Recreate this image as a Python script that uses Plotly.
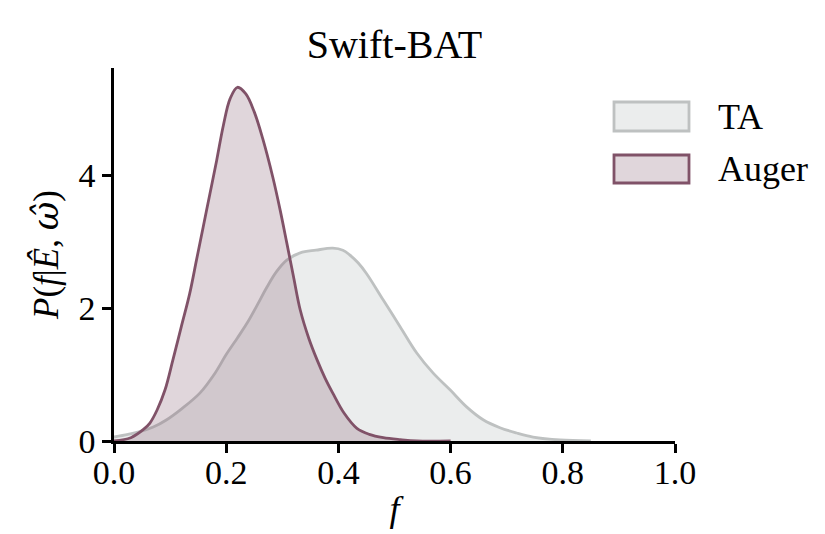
import plotly.graph_objects as go

# ---- data ----
ta_f = [0.0, 0.025, 0.046, 0.07, 0.094, 0.12, 0.153, 0.18, 0.2, 0.22, 0.237, 0.255, 0.273,
        0.29, 0.308, 0.332, 0.36, 0.39, 0.408, 0.42, 0.435,
        0.45, 0.48, 0.51, 0.54, 0.569, 0.599, 0.629, 0.658, 0.688, 0.718, 0.747, 0.795, 0.85]
ta_p = [0.06, 0.1, 0.14, 0.21, 0.32, 0.48, 0.72, 1.02, 1.3, 1.55, 1.77, 2.04, 2.32,
        2.55, 2.72, 2.83, 2.87, 2.9, 2.87, 2.8, 2.68,
        2.52, 2.12, 1.72, 1.32, 1.02, 0.77, 0.51, 0.32, 0.2, 0.12, 0.06, 0.015, 0.0]

auger_f = [0.0, 0.03, 0.052, 0.064, 0.077, 0.091, 0.105, 0.12, 0.135, 0.147, 0.159, 0.171,
           0.183, 0.195, 0.207, 0.22, 0.235, 0.25, 0.265, 0.283, 0.296, 0.308, 0.32, 0.332,
           0.347, 0.362, 0.376, 0.39, 0.41, 0.433, 0.455, 0.48, 0.51, 0.54, 0.6]
auger_p = [0.0, 0.05, 0.17, 0.27, 0.47, 0.77, 1.22, 1.72, 2.22, 2.72, 3.22, 3.72,
           4.22, 4.75, 5.15, 5.32, 5.22, 4.95, 4.55, 3.97, 3.48, 2.98, 2.47, 1.97,
           1.55, 1.22, 0.95, 0.72, 0.42, 0.19, 0.1, 0.05, 0.02, 0.0, 0.0]

series_names = ["TA", "Auger"]
x_ticks = [0.0, 0.2, 0.4, 0.6, 0.8, 1.0]
x_ticklabels = ["0.0", "0.2", "0.4", "0.6", "0.8", "1.0"]
y_ticks = [0, 2, 4]

TA_LINE = "rgb(190,193,193)"
TA_FILL = "rgba(190,196,194,0.30)"
AU_LINE = "rgb(128,82,104)"
AU_FILL = "rgba(133,90,110,0.25)"

FONT = "Liberation Serif, Times New Roman, serif"

W, H = 825, 534
L, R, T, B = 114, 675, 68, 441

fig = go.Figure()
fig.add_trace(go.Scatter(x=ta_f, y=ta_p, mode="lines", fill="tozeroy",
                         line=dict(color=TA_LINE, width=2.8, shape="spline", smoothing=1.0),
                         fillcolor=TA_FILL, name=series_names[0], showlegend=False))
fig.add_trace(go.Scatter(x=auger_f, y=auger_p, mode="lines", fill="tozeroy",
                         line=dict(color=AU_LINE, width=2.8, shape="spline", smoothing=1.0),
                         fillcolor=AU_FILL, name=series_names[1], showlegend=False))

def px(xp):
    return (xp - L) / (R - L)

def py(yp):
    return (B - yp) / (B - T)

# manual legend with patch boxes
legend_items = [(series_names[0], TA_LINE, TA_FILL, 102, 131),
                (series_names[1], AU_LINE, AU_FILL, 155, 183)]
shapes = []
annotations = []
for name, lc, fc, y0, y1 in legend_items:
    shapes.append(dict(type="rect", xref="paper", yref="paper",
                       x0=px(614), x1=px(689), y0=py(y1), y1=py(y0),
                       line=dict(color=lc, width=2.8), fillcolor=fc))
    annotations.append(dict(text=name, xref="paper", yref="paper",
                            x=px(716), y=py((y0 + y1) / 2), xanchor="left", yanchor="middle",
                            showarrow=False, font=dict(family=FONT, size=36, color="black")))

fig.update_layout(
    width=W, height=H,
    margin=dict(l=L, r=W - R, t=T, b=H - B, autoexpand=False),
    paper_bgcolor="white", plot_bgcolor="white",
    font=dict(family=FONT, size=34, color="black"),
    title=dict(text="Swift-BAT", x=(L + R) / 2 / W, xanchor="center",
               y=1 - 44 / H, yanchor="middle", yref="container",
               font=dict(family=FONT, size=40, color="black")),
    xaxis=dict(range=[0, 1], tickvals=x_ticks, ticktext=x_ticklabels, automargin=False,
               showgrid=False, zeroline=False, showline=True, linecolor="black", linewidth=2.5,
               ticks="outside", ticklen=9, tickwidth=2.5, tickcolor="black",
               ticklabelstandoff=-10,
               tickfont=dict(family=FONT, size=34),
               title=dict(text="<i>f</i>", standoff=7, font=dict(family=FONT, size=36))),
    yaxis=dict(range=[0, 5.61], tickvals=y_ticks, automargin=False,
               showgrid=False, zeroline=False, showline=True, linecolor="black", linewidth=2.5,
               ticks="outside", ticklen=9, tickwidth=2.5, tickcolor="black",
               tickfont=dict(family=FONT, size=34),
               title=dict(text="<i>P</i>(<i>f</i>|<i>Ê</i>, <i><span style=\"font-family:DejaVu Serif\">ω̂</span></i>)",
                          standoff=10, font=dict(family=FONT, size=35))),
    shapes=shapes,
    annotations=annotations,
)

fig.write_html("out.html")
